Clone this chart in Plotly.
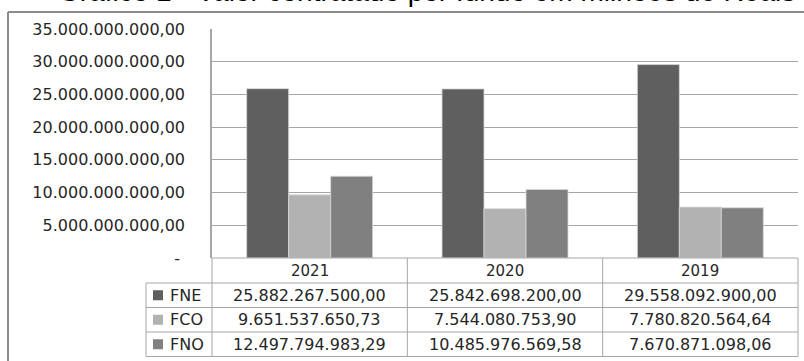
import plotly.graph_objects as go

# Valor contratado por fundo (R$)
years = ["2021", "2020", "2019"]
funds = ["FNE", "FCO", "FNO"]
fne = [25882267500.00, 25842698200.00, 29558092900.00]
fco = [9651537650.73, 7544080753.90, 7780820564.64]
fno = [12497794983.29, 10485976569.58, 7670871098.06]
y_ticks = [0, 5e9, 10e9, 15e9, 20e9, 25e9, 30e9, 35e9]

series = {"FNE": fne, "FCO": fco, "FNO": fno}
colors = {"FNE": "#5f5f5f", "FCO": "#b2b2b2", "FNO": "#808080"}

W, H = 804, 361
L, R, T, B = 212, 798, 29, 258          # plot area edges in pixels
rows = [258, 283, 307.5, 332, 356.5]     # data table row boundaries
label_left = 146                         # left edge of the series-name column

LINE = "#a6a6a6"
TEXT = "#262626"
FONT = "DejaVu Sans"


def brl(v):
    s = f"{v:,.2f}"
    return s.replace(",", "X").replace(".", ",").replace("X", ".")


def px(x):
    return (x - L) / (R - L)


def py(y):
    return (B - y) / (B - T)


fig = go.Figure()
for name in funds:
    fig.add_trace(go.Bar(
        x=years, y=series[name], name=name,
        marker=dict(color=colors[name], line=dict(color="#d9d9d9", width=0.8)),
    ))

shapes = []


def hline(y, x0, x1, color=LINE, width=1):
    shapes.append(dict(type="line", xref="paper", yref="paper",
                       x0=px(x0), x1=px(x1), y0=py(y), y1=py(y),
                       line=dict(color=color, width=width)))


def vline(x, y0, y1, color=LINE, width=1):
    shapes.append(dict(type="line", xref="paper", yref="paper",
                       x0=px(x), x1=px(x), y0=py(y0), y1=py(y1),
                       line=dict(color=color, width=width)))


# data table grid
hline(rows[0], L, R)
for y in rows[1:]:
    hline(y, label_left, R)
vline(label_left, rows[1], rows[-1])
for i in range(len(years) + 1):
    vline(L + i * (R - L) / len(years), rows[0], rows[-1])

# outer frame of the chart area
shapes.append(dict(type="line", xref="paper", yref="paper",
                   x0=px(8), x1=px(8), y0=py(12), y1=py(H + 5),
                   line=dict(color="#8c8c8c", width=2)))
shapes.append(dict(type="line", xref="paper", yref="paper",
                   x0=px(8), x1=px(W + 5), y0=py(12), y1=py(12),
                   line=dict(color="#8c8c8c", width=2)))

annotations = []
# column headers
for i, yr in enumerate(years):
    annotations.append(dict(xref="paper", yref="paper", x=(i + 0.5) / len(years),
                            y=py((rows[0] + rows[1]) / 2), text=yr, showarrow=False,
                            xanchor="center", yanchor="middle",
                            font=dict(family=FONT, size=15, color=TEXT)))
# series rows: legend key, name and values
for r, name in enumerate(funds):
    yc = (rows[r + 1] + rows[r + 2]) / 2
    shapes.append(dict(type="rect", xref="paper", yref="paper",
                       x0=px(153), x1=px(163), y0=py(yc - 5), y1=py(yc + 5),
                       fillcolor=colors[name], line=dict(width=0)))
    annotations.append(dict(xref="paper", yref="paper", x=px(168), y=py(yc),
                            text=name, showarrow=False, xanchor="left", yanchor="middle",
                            font=dict(family=FONT, size=16, color=TEXT)))
    for i, v in enumerate(series[name]):
        annotations.append(dict(xref="paper", yref="paper", x=(i + 0.5) / len(years),
                                y=py(yc), text=brl(v), showarrow=False,
                                xanchor="center", yanchor="middle",
                                font=dict(family=FONT, size=16, color=TEXT)))

# title, partly cut off by the top edge
annotations.append(dict(xref="paper", yref="paper", x=px(56), y=py(9),
                        text="Gráfico 1 - Valor contratado por fundo em milhões de Reais",
                        showarrow=False, xanchor="left", yanchor="bottom",
                        font=dict(family="Liberation Sans", size=28, color="#000000")))

fig.update_layout(
    width=W, height=H,
    margin=dict(l=L, r=W - R, t=T, b=H - B, pad=0),
    paper_bgcolor="white", plot_bgcolor="white",
    barmode="group", bargap=0.355, bargroupgap=0,
    showlegend=False,
    shapes=shapes, annotations=annotations,
    xaxis=dict(type="category", range=[-0.5, 2.5], showticklabels=False,
               showgrid=False, zeroline=False, showline=False, ticks=""),
    yaxis=dict(range=[0, 35e9], tickvals=y_ticks,
               ticktext=[brl(v) if v else "-\u00a0" for v in y_ticks],
               showgrid=True, gridcolor=LINE, gridwidth=1,
               showline=True, linecolor=LINE, linewidth=1.5,
               zeroline=False, ticks="", ticklabelstandoff=22,
               tickfont=dict(family=FONT, size=16, color=TEXT)),
)

fig.write_html("out.html")
